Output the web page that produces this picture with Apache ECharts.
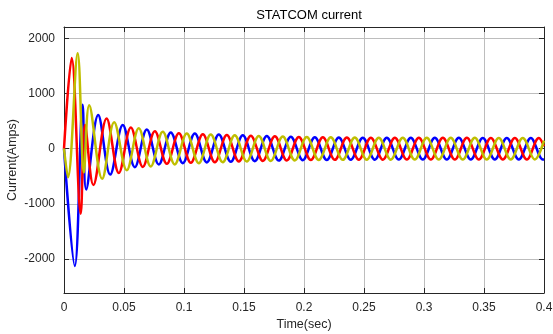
<!DOCTYPE html>
<html>
<head>
<meta charset="utf-8">
<script src="https://cdn.jsdelivr.net/npm/echarts@6/dist/echarts.min.js"></script>
<style>
html,body{margin:0;padding:0;background:#fff;}
#c{width:553px;height:334px;}
</style>
</head>
<body>
<div id="c"></div>
<script>
// Time axis ticks (s) and current axis ticks (A)
const xTicks = [0, 0.05, 0.1, 0.15, 0.2, 0.25, 0.3, 0.35, 0.4];
const yTicks = [-2000, -1000, 0, 1000, 2000];

// Extrema of each phase current: [time (s), current (A)]
const phaseBlue = [
  [0,0],[0.009,-2130],[0.0155,800],[0.0185,-740],[0.0285,610],[0.0385,-470],
  [0.049,430],[0.059,-335],[0.069,350],[0.079,-285],[0.089,295],[0.099,-262],
  [0.109,275],[0.119,-250],[0.129,258],[0.139,-238],[0.149,243],[0.159,-226],
  [0.169,230],[0.179,-216],[0.189,218],[0.199,-208],[0.209,210],[0.219,-204],
  [0.229,204],[0.239,-201],[0.249,201],[0.259,-199],[0.269,199],[0.279,-198],
  [0.289,198],[0.299,-197],[0.309,197],[0.319,-197],[0.329,197],[0.339,-196],
  [0.349,196],[0.359,-196],[0.369,196],[0.379,-196],[0.389,196],[0.399,-196],
  [0.4,-195]
];
const phaseRed = [
  [0,0],[0.0064,1645],[0.0139,-1180],[0.0175,430],[0.0245,-660],[0.0355,550],
  [0.0457,-440],[0.0557,385],[0.0657,-330],[0.0757,318],[0.0857,-275],[0.0957,280],
  [0.1057,-256],[0.1157,262],[0.1257,-245],[0.1357,248],[0.1457,-233],[0.1557,236],
  [0.1657,-222],[0.1757,224],[0.1857,-213],[0.1957,214],[0.2057,-206],[0.2157,207],
  [0.2257,-202],[0.2357,202],[0.2457,-200],[0.2557,200],[0.2657,-199],[0.2757,199],
  [0.2857,-198],[0.2957,198],[0.3057,-197],[0.3157,197],[0.3257,-197],[0.3357,197],
  [0.3457,-196],[0.3557,196],[0.3657,-196],[0.3757,196],[0.3857,-196],[0.3957,196],
  [0.4,45]
];
const phaseYellow = [
  [0,0],[0.0033,-520],[0.0114,1735],[0.0165,-430],[0.021,790],[0.0318,-545],
  [0.0418,480],[0.0523,-390],[0.0623,372],[0.0723,-322],[0.0823,308],[0.0923,-285],
  [0.1023,278],[0.1123,-262],[0.1223,258],[0.1323,-245],[0.1423,245],[0.1523,-232],
  [0.1623,232],[0.1723,-221],[0.1823,221],[0.1923,-212],[0.2023,212],[0.2123,-206],
  [0.2223,206],[0.2323,-202],[0.2423,202],[0.2523,-200],[0.2623,200],[0.2723,-199],
  [0.2823,199],[0.2923,-198],[0.3023,198],[0.3123,-197],[0.3223,197],[0.3323,-197],
  [0.3423,197],[0.3523,-196],[0.3623,196],[0.3723,-196],[0.3823,196],[0.3923,-196],
  [0.4,145]
];

const FONT = '"Liberation Sans", Arial, Helvetica, sans-serif';
const AX = '#262626';
const GRIDC = '#bdbdbd';

const chart = echarts.init(document.getElementById('c'), null, {renderer: 'canvas'});

function xAx(pos, labels) {
  return {
    type: 'value', position: pos, min: 0, max: 0.4,
    axisLine: {show: true, onZero: false, lineStyle: {color: AX, width: 1}},
    axisTick: {show: true, inside: true, length: 5, customValues: xTicks, lineStyle: {color: AX}},
    axisLabel: {show: labels, customValues: xTicks, margin: 9, color: AX, fontSize: 12, fontFamily: FONT,
      formatter: v => String(v)},
    splitLine: {show: labels, lineStyle: {color: GRIDC, width: 1}},
    name: labels ? 'Time(sec)' : '', nameLocation: 'middle', nameGap: 25, nameMoveOverlap: false,
    nameTextStyle: {color: AX, fontSize: 12.5, fontFamily: FONT}
  };
}
function yAx(pos, labels) {
  return {
    type: 'value', position: pos, min: -2620, max: 2210,
    axisLine: {show: true, onZero: false, lineStyle: {color: AX, width: 1}},
    axisTick: {show: true, inside: true, length: 5, customValues: yTicks, lineStyle: {color: AX}},
    axisLabel: {show: labels, customValues: yTicks, margin: 9, color: AX, fontSize: 12, fontFamily: FONT,
      formatter: v => String(v)},
    splitLine: {show: labels, lineStyle: {color: GRIDC, width: 1}},
    name: labels ? 'Current(Amps)' : '', nameLocation: 'middle', nameGap: 45, nameMoveOverlap: false,
    nameTextStyle: {color: AX, fontSize: 12.5, fontFamily: FONT}
  };
}

function line(data, color) {
  return {
    type: 'line', data: data, xAxisIndex: 0, yAxisIndex: 0,
    showSymbol: false, symbol: 'none', smooth: 0.36,
    lineStyle: {color: color, width: 2.5}, clip: true
  };
}

chart.setOption({
  animation: false,
  backgroundColor: '#ffffff',
  title: {
    text: 'STATCOM current', left: 304, top: 4, textAlign: 'center',
    textStyle: {color: '#000', fontSize: 13, fontWeight: 'normal', fontFamily: FONT}
  },
  grid: {left: 64, right: 9, top: 27, bottom: 41, containLabel: false, outerBoundsMode: 'none'},
  xAxis: [xAx('bottom', true), xAx('top', false)],
  yAxis: [yAx('left', true), yAx('right', false)],
  series: [
    line(phaseBlue, '#0000ff'),
    line(phaseRed, '#ff0000'),
    line(phaseYellow, '#bfbf00')
  ]
});
</script>
</body>
</html>
